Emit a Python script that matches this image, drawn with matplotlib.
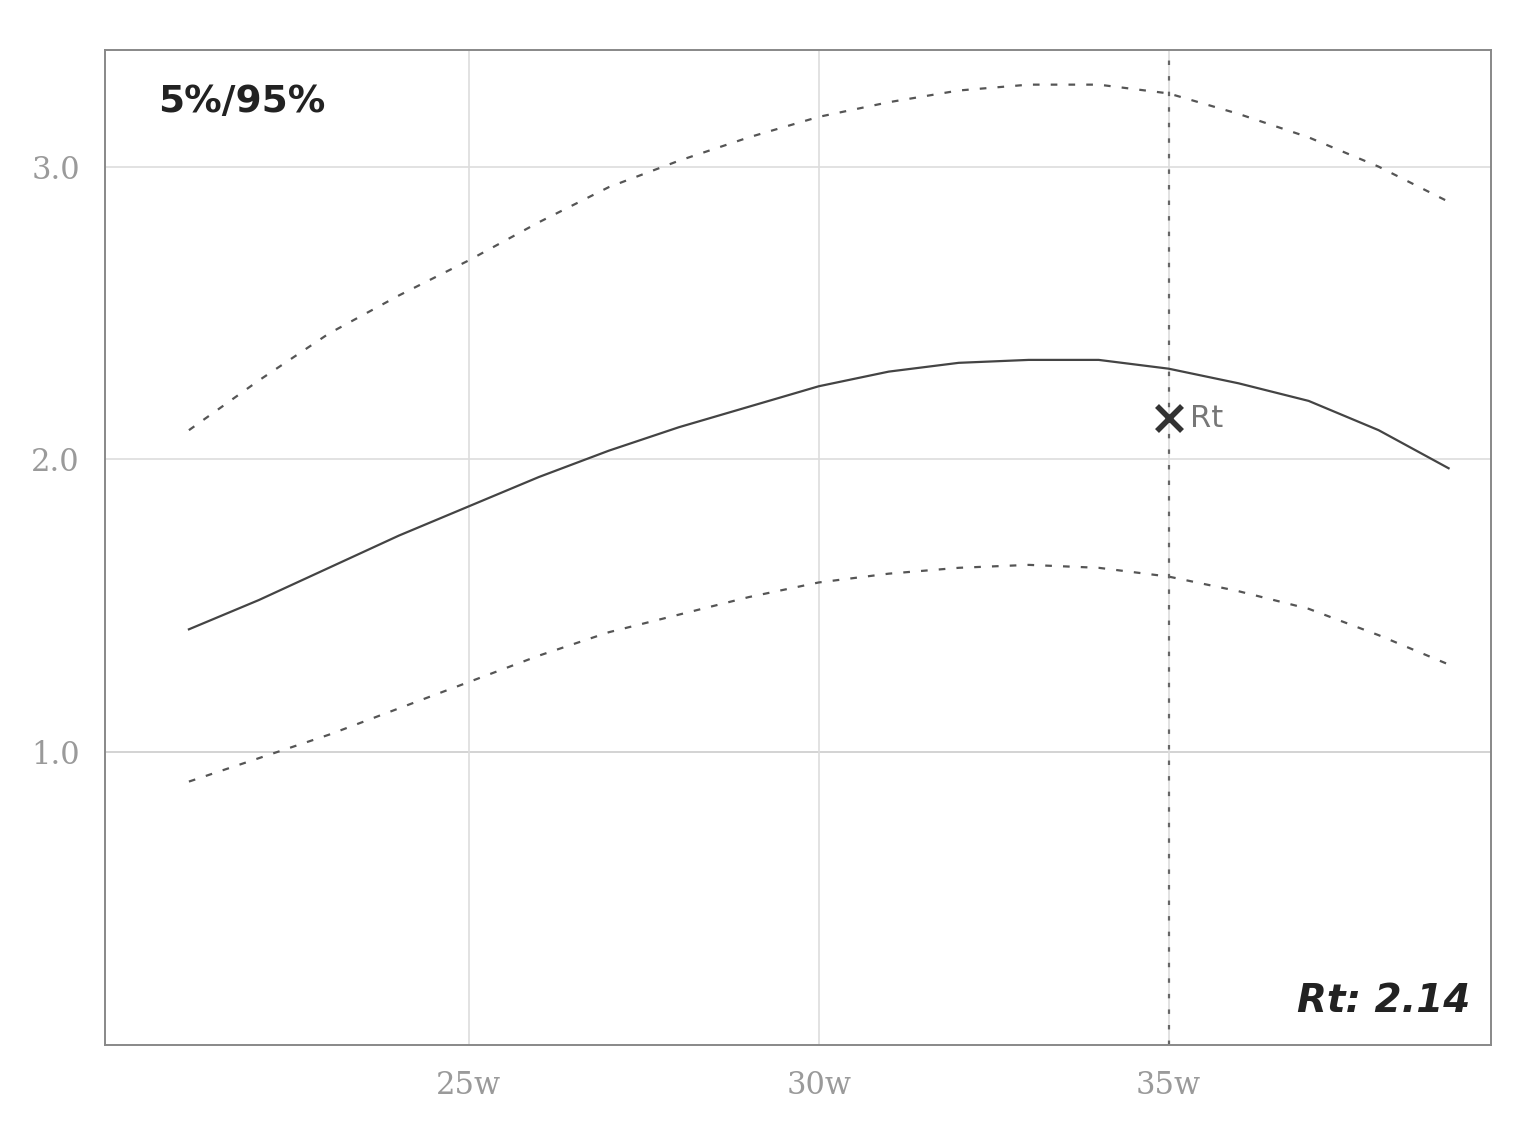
import matplotlib.pyplot as plt

# weeks and the three curves (median and 5%/95% band)
weeks = [21, 22, 23, 24, 25, 26, 27, 28, 29, 30,
         31, 32, 33, 34, 35, 36, 37, 38, 39]
median = [1.42, 1.52, 1.63, 1.74, 1.84, 1.94, 2.03, 2.11, 2.18, 2.25,
          2.30, 2.33, 2.34, 2.34, 2.31, 2.26, 2.20, 2.10, 1.97]
upper = [2.10, 2.27, 2.43, 2.56, 2.68, 2.81, 2.93, 3.02, 3.10, 3.17,
         3.22, 3.26, 3.28, 3.28, 3.25, 3.18, 3.10, 3.00, 2.88]
lower = [0.90, 0.98, 1.06, 1.15, 1.24, 1.33, 1.41, 1.47, 1.53, 1.58,
         1.61, 1.63, 1.64, 1.63, 1.60, 1.55, 1.49, 1.40, 1.30]

x_ticks = [25, 30, 35]
x_labels = ["25w", "30w", "35w"]
y_ticks = [1.0, 2.0, 3.0]
y_labels = ["1.0", "2.0", "3.0"]

rt_week = 35
rt_value = 2.14

fig = plt.figure(figsize=(15.21, 11.25), dpi=100)
ax = fig.add_axes([0.069, 0.071, 0.911, 0.885])

ax.plot(weeks, median, color="#444444", lw=1.6)
ax.plot(weeks, upper, color="#555555", lw=1.6, ls=(0, (3, 5)))
ax.plot(weeks, lower, color="#555555", lw=1.6, ls=(0, (3, 5)))

# Rt marker
ax.axvline(rt_week, color="#666666", lw=1.6, ls=(0, (2, 5)))
ax.plot([rt_week], [rt_value], marker="x", color="#333333", ms=18, mew=4)
ax.text(rt_week + 0.3, rt_value, "Rt", color="#777777", fontsize=22,
        va="center", ha="left")

ax.set_xlim(19.8, 39.6)
ax.set_ylim(0, 3.4)
ax.set_xticks(x_ticks)
ax.set_xticklabels(x_labels)
ax.set_yticks(y_ticks)
ax.set_yticklabels(y_labels)
ax.tick_params(length=0, pad=18, labelsize=22, labelcolor="#9a9a9a")
for lab in ax.get_xticklabels() + ax.get_yticklabels():
    lab.set_family("DejaVu Serif")
    lab.set_fontweight("light")

ax.grid(True, color="#dddddd", lw=1.2)
ax.axhline(1.0, color="#aaaaaa", lw=1.4, zorder=0)
for s in ax.spines.values():
    s.set_color("#888888")
    s.set_linewidth(1.4)

ax.text(0.038, 0.965, "5%/95%", transform=ax.transAxes, fontsize=27,
        fontweight="semibold", color="#222222", va="top", ha="left")
ax.text(0.985, 0.025, "Rt: 2.14", transform=ax.transAxes, fontsize=28,
        fontstyle="italic", fontweight="semibold", color="#222222",
        va="bottom", ha="right")

plt.savefig("out.png", dpi=100)
